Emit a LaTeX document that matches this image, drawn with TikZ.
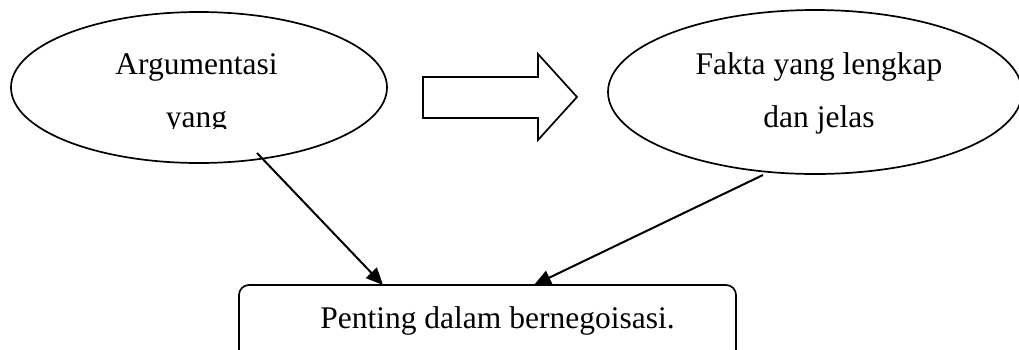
\documentclass[tikz,border=0pt]{standalone}
\usepackage{fontspec}
\setmainfont{Liberation Serif}
\usetikzlibrary{arrows.meta,shapes.geometric}
\tikzset{
  oval/.style={draw, ellipse, line width=1.7pt, inner sep=0pt},
  lbl/.style={inner sep=0pt, anchor=base, font=\fontsize{31.5}{36}\selectfont},
  conn/.style={line width=2pt, -{Triangle[length=17pt,width=15pt]}},
  boxstyle/.style={draw, line width=1.7pt, rounded corners=10pt},
  bigarrow/.style={draw, line width=1.7pt, line join=miter}
}
\begin{document}
\begin{tikzpicture}[x=1pt,y=-1pt]
\clip (0,0) rectangle (1019,349);
\fill[white] (0,0) rectangle (1019,349);
% ellipses
\node[oval, minimum width=376pt, minimum height=151pt] (e1) at (199,87.5) {};
\node[oval, minimum width=414pt, minimum height=164pt] (e2) at (815,92) {};
% texts
\node[lbl] (t1a) at (196.5,74) {Argumentasi};
\begin{scope}
  \clip (0,0) rectangle (1019,128);
  \node[lbl] (t1b) at (196.5,127) {yang};
\end{scope}
\node[lbl] (t2a) at (819,74) {Fakta yang lengkap};
\node[lbl] (t2b) at (819,127) {dan jelas};
% block arrow
\draw[bigarrow] (423,77) -- (538,77) -- (538,54) -- (577,97) -- (538,140) -- (538,118) -- (423,118) -- cycle;
% bottom box
\draw[boxstyle] (239,380) -- (239,285) -- (736,285) -- (736,380);
\node[lbl] (t3) at (497.5,328) {Penting dalam bernegoisasi.};
\coordinate (b1) at (383,285);
\coordinate (b2) at (534,285);
\coordinate (s1) at (257,153);
\coordinate (s2) at (763,175);
\draw[conn] (s1) -- (b1);
\draw[conn] (s2) -- (b2);
\end{tikzpicture}
\end{document}
